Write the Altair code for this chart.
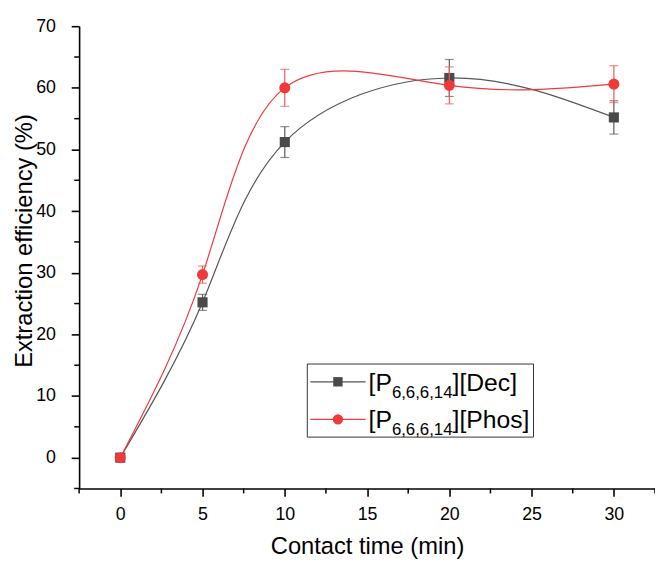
import altair as alt
import pandas as pd

# ---- data ----
time = [0, 5, 10, 20, 30]
dec = [0.0, 25.2, 51.2, 61.6, 55.2]
dec_err = [0.0, 1.3, 2.5, 3.0, 2.7]
phos = [0.0, 29.7, 60.0, 60.4, 60.6]
phos_err = [0.0, 1.4, 3.0, 3.0, 3.0]

x_ticks = [0, 5, 10, 15, 20, 25, 30]
y_ticks = [0, 10, 20, 30, 40, 50, 60, 70]
x_minor = [-2.5, 2.5, 7.5, 12.5, 17.5, 22.5, 27.5, 32.5]
y_minor = [-5, 5, 15, 25, 35, 45, 55, 65]

DEC_COLOR = "#4a4a4a"
DEC_LINE = "#555555"
PHOS_COLOR = "#f03a3a"
FONT = "Liberation Sans"

W, H = 583, 468

xscale = alt.Scale(domain=[-2.5, 32.5], nice=False, zero=False)
yscale = alt.Scale(domain=[-5, 70], nice=False, zero=False)


def frame(values, errs):
    return pd.DataFrame({
        "t": time,
        "v": values,
        "lo": [v - e for v, e in zip(values, errs)],
        "hi": [v + e for v, e in zip(values, errs)],
    })


dec_df = frame(dec, dec_err)
phos_df = frame(phos, phos_err)

X = alt.X("t:Q", scale=xscale,
          axis=alt.Axis(values=x_ticks, title="Contact time (min)",
                        titleY=66, titleBaseline="alphabetic",
                        labelPadding=9))
Y = alt.Y("v:Q", scale=yscale,
          axis=alt.Axis(values=y_ticks, title="Extraction efficiency (%)",
                        titleX=-48, titleY=217, titleAngle=270,
                        titleAlign="center", titleBaseline="alphabetic",
                        labelPadding=16))


def series(df, color, linecolor, shape, size, errcolor):
    base = alt.Chart(df)
    line = base.mark_line(interpolate="natural", color=linecolor,
                          strokeWidth=1.2).encode(x=X, y=Y)
    bars = base.mark_rule(color=errcolor, strokeWidth=1.2).encode(
        x="t:Q", y=alt.Y("lo:Q"), y2="hi:Q")
    cap_lo = base.mark_tick(color=errcolor, orient="horizontal", size=9, thickness=1.2).encode(
        x="t:Q", y="lo:Q")
    cap_hi = base.mark_tick(color=errcolor, orient="horizontal", size=9, thickness=1.2).encode(
        x="t:Q", y="hi:Q")
    pts = base.mark_point(shape=shape, filled=True, size=size, color=color, opacity=1).encode(
        x="t:Q", y="v:Q")
    return [line, bars, cap_lo, cap_hi, pts]


layers = []
layers += series(dec_df, DEC_COLOR, DEC_LINE, "square", 105, "#5a5a5a")
layers += series(phos_df, PHOS_COLOR, PHOS_COLOR, "circle", 125, "#f05a5a")

# minor ticks
xm = alt.Chart(pd.DataFrame({"t": x_minor})).mark_rule(color="black", strokeWidth=1.5).encode(
    x="t:Q", y=alt.value(H), y2=alt.value(H + 5))
ym = alt.Chart(pd.DataFrame({"v": y_minor})).mark_rule(color="black", strokeWidth=1.5).encode(
    y="v:Q", x=alt.value(0), x2=alt.value(-5))
layers += [xm, ym]

# ---- custom legend (with subscripts) ----
one = pd.DataFrame({"a": [0]})
LX0, LX1, LY0, LY1 = 231, 460, 342, 416
box = alt.Chart(one).mark_rect(fill="white", stroke="#333333", strokeWidth=1).encode(
    x=alt.value(LX0), x2=alt.value(LX1), y=alt.value(LY0), y2=alt.value(LY1))
layers.append(box)

MAIN, SUB = 25, 17
w_open = (0.278 + 0.667) * MAIN
w_sub = (5 * 0.556 + 3 * 0.278) * SUB
rows = [("[Dec]", DEC_COLOR, DEC_LINE, "square", 90, 360),
        ("[Phos]", PHOS_COLOR, PHOS_COLOR, "circle", 110, 398)]
for label, color, lcolor, shape, size, ry in rows:
    seg = alt.Chart(one).mark_rule(color=lcolor, strokeWidth=1.2).encode(
        x=alt.value(234), x2=alt.value(290), y=alt.value(ry))
    sym = alt.Chart(one).mark_point(shape=shape, filled=True, size=size, color=color, opacity=1).encode(
        x=alt.value(262), y=alt.value(ry))
    t1 = alt.Chart(one).mark_text(text="[P", font=FONT, fontSize=MAIN, align="left",
                                  baseline="alphabetic", color="black").encode(
        x=alt.value(293), y=alt.value(ry + 9))
    t2 = alt.Chart(one).mark_text(text="6,6,6,14", font=FONT, fontSize=SUB, align="left",
                                  baseline="alphabetic", color="black").encode(
        x=alt.value(293 + w_open), y=alt.value(ry + 16))
    t3 = alt.Chart(one).mark_text(text="]" + label, font=FONT, fontSize=MAIN, align="left",
                                  baseline="alphabetic", color="black").encode(
        x=alt.value(293 + w_open + w_sub), y=alt.value(ry + 9))
    layers += [seg, sym, t1, t2, t3]

chart = alt.layer(*layers).properties(
    width=W, height=H,
    autosize=alt.AutoSizeParams(type="none"),
    padding={"left": 72, "top": 15, "right": 0, "bottom": 70},
).configure_view(stroke=None).configure_axis(
    grid=False,
    domainColor="black", domainWidth=1.6,
    tickColor="black", tickWidth=1.6, tickSize=8,
    labelFont=FONT, labelFontSize=18, labelColor="black",
    titleFont=FONT, titleFontSize=24, titleFontWeight="normal", titleColor="black",
)

chart.save("out.html", embed_options={"renderer": "svg", "actions": False})
